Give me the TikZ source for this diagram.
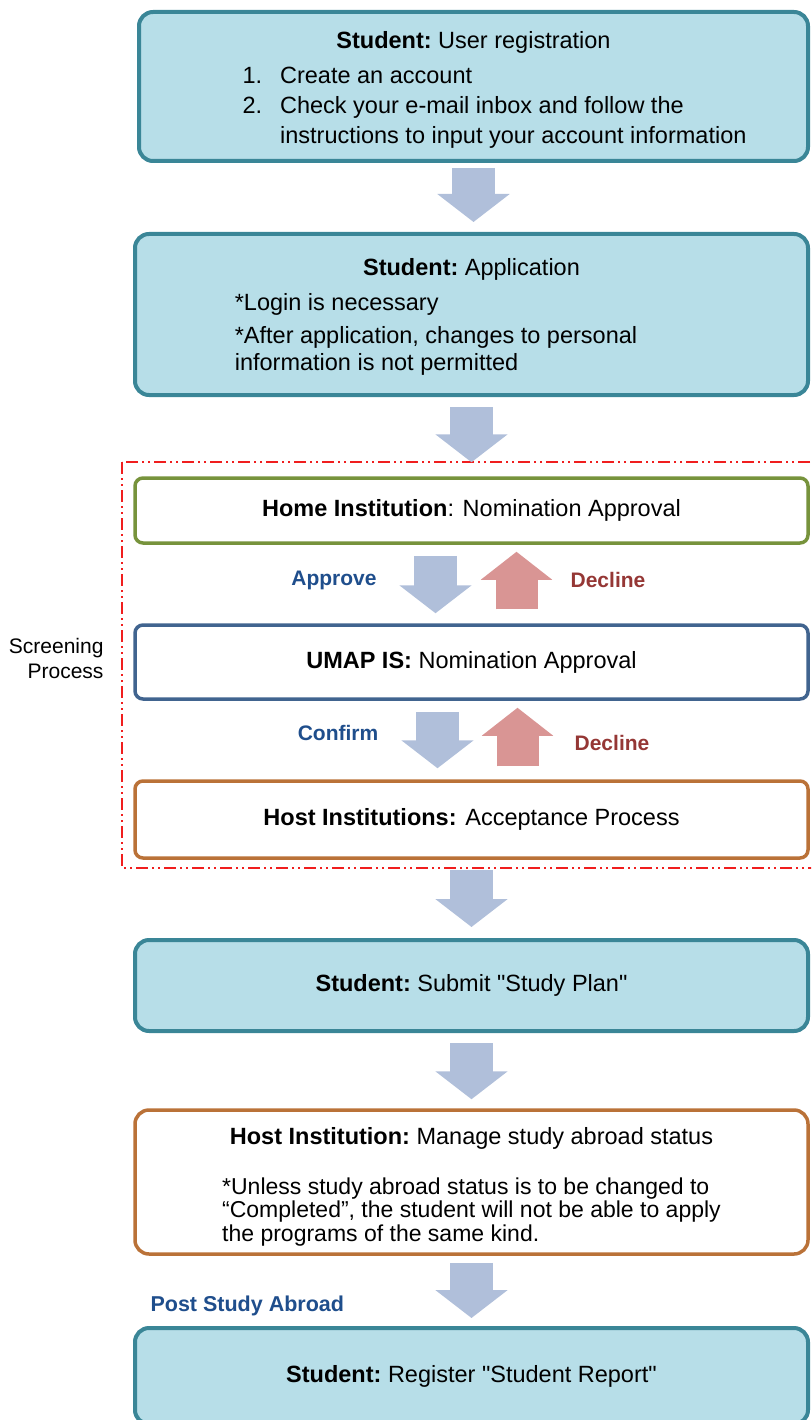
\documentclass[tikz,border=0pt]{standalone}
\usepackage{fontspec}
\setmainfont{Liberation Sans}[Ligatures=TeXOff]
\usetikzlibrary{arrows.meta}

\definecolor{stufill}{HTML}{B7DEE8}
\definecolor{stuline}{HTML}{3A8697}
\definecolor{flowblue}{HTML}{B0BFDA}
\definecolor{flowred}{HTML}{D99594}
\definecolor{okblue}{HTML}{1F4E8C}
\definecolor{nored}{HTML}{953735}
\definecolor{homegreen}{HTML}{77933C}
\definecolor{umapblue}{HTML}{41648F}
\definecolor{hostorange}{HTML}{BA7238}
\definecolor{screenred}{HTML}{F01E1E}

\tikzset{
  every node/.style={font=\fontsize{23.5}{30}\selectfont},
  stubox/.style={draw=stuline, fill=stufill, line width=4pt, rounded corners=14pt,
    minimum width=673pt, align=center, inner sep=0pt},
  screenbox/.style={draw=#1, fill=white, line width=3.5pt, rounded corners=8pt,
    minimum width=673pt, align=center, inner sep=0pt},
  stepflow/.style={draw=flowblue, line width=43pt, -{Triangle[length=28pt,width=71pt]}},
  backflow/.style={draw=flowred, line width=42pt, -{Triangle[length=28pt,width=70pt]}},
  oklabel/.style={text=okblue, font=\fontsize{21}{25}\selectfont\bfseries},
  nolabel/.style={text=nored, font=\fontsize{21}{25}\selectfont\bfseries}
}

\begin{document}
\begin{tikzpicture}[x=1pt,y=-1pt]
  \clip (0,0) rectangle (811,1420);
  % screening frame
  \draw[screenred, line width=1.8pt,
    dash pattern=on 12pt off 4pt on 2pt off 4pt on 2pt off 4pt]
    (122,462) rectangle (830,868);
  \node[anchor=east, align=right, font=\fontsize{21}{25}\selectfont] (screen) at (107,658.5)
    {Screening\\Process};

  % student steps
  \node[stubox, minimum width=669pt, minimum height=149pt] (reg) at (473.5,86.5)
    {\rule{0pt}{28pt}\textbf{Student:}\ User registration\\[9pt]
     \hspace*{42pt}\begin{tabular}{@{}l@{\hspace{18pt}}l@{}}
       1.&Create an account\\
       2.&Check your e-mail inbox and follow the\\
       &instructions to input your account information
     \end{tabular}};
  \node[stubox, minimum height=161pt] (app) at (471.5,314.5)
    {\rule{0pt}{25pt}\textbf{Student:}\ Application\\[11pt]
     \hspace*{-71pt}\fontsize{23.5}{27}\selectfont\begin{tabular}{@{}l@{}}
       *Login is necessary\\[6pt]
       *After application, changes to personal\\
       information is not permitted
     \end{tabular}};

  % screening process
  \node[screenbox=homegreen, minimum height=65pt] (home) at (471.5,510.5)
    {\textbf{Home Institution}: Nomination Approval};
  \node[screenbox=umapblue, minimum height=74pt] (umap) at (471.5,662)
    {\textbf{UMAP IS:} Nomination Approval};
  \node[screenbox=hostorange, minimum height=77pt] (host) at (471.5,819.5)
    {\textbf{Host Institutions:} Acceptance Process};

  \node[stubox, minimum height=91pt] (plan) at (471.5,985.5)
    {\textbf{Student:}\ Submit "Study Plan"};
  \node[screenbox=hostorange, rounded corners=14pt, minimum height=144pt] (manage) at (471.5,1182)
    {\rule{0pt}{29pt}\textbf{Host Institution:}\ Manage study abroad status\\[27pt]
     \fontsize{23}{23.5}\selectfont\begin{tabular}{@{}l@{}}
       *Unless study abroad status is to be changed to\\
       “Completed”, the student will not be able to apply\\
       the programs of the same kind.
     \end{tabular}};
  \node[stubox, minimum height=96pt] (report) at (471.5,1376)
    {\textbf{Student:}\ Register "Student Report"};

  % flow
  \draw[stepflow, shorten <=5pt, shorten >=10pt] (reg.south) -- (reg.south |- app.north);
  \draw[stepflow, shorten <=10pt, shorten >=14pt] (app) -- (home);
  \draw[stepflow, shorten <=11pt, shorten >=10pt] ([xshift=-36pt]home.south) -- ([xshift=-36pt]umap.north);
  \draw[backflow, shorten <=14pt, shorten >=7pt] ([xshift=45pt]umap.north) -- ([xshift=45pt]home.south);
  \draw[stepflow, shorten <=11pt, shorten >=11pt] ([xshift=-34pt]umap.south) -- ([xshift=-34pt]host.north);
  \draw[backflow, shorten <=13pt, shorten >=7pt] ([xshift=46pt]host.north) -- ([xshift=46pt]umap.south);
  \draw[stepflow, shorten <=10pt, shorten >=11pt] (host) -- (plan);
  \draw[stepflow, shorten <=10pt, shorten >=9pt] (plan) -- (manage);
  \draw[stepflow, shorten <=7pt, shorten >=8pt] (manage) -- (report);

  % labels
  \node[oklabel] (approve) at (334,580) {Approve};
  \node[nolabel] (decline1) at (608,580) {Decline};
  \node[oklabel] (confirm) at (338,733) {Confirm};
  \node[nolabel] (decline2) at (612,743) {Decline};
  \node[oklabel, anchor=west, font=\fontsize{21.5}{25}\selectfont\bfseries] (post) at (147,1306)
    {Post Study Abroad};
\end{tikzpicture}
\end{document}
